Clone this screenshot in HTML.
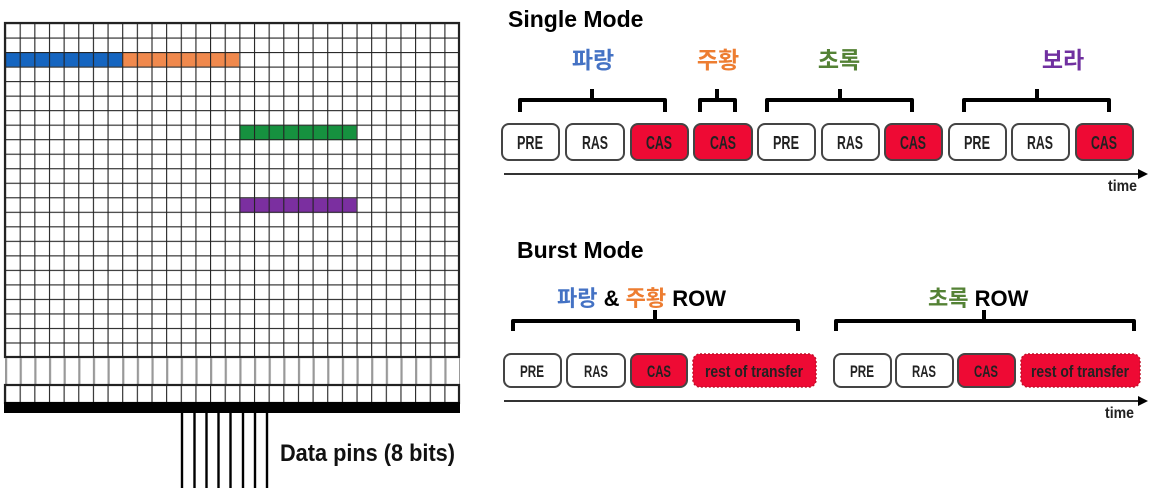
<!DOCTYPE html>
<html><head><meta charset="utf-8"><style>
html,body{margin:0;padding:0;background:#fff;width:1152px;height:488px;overflow:hidden}
svg{display:block}
.b{font-family:"Liberation Sans Narrow","Liberation Sans",sans-serif;font-weight:bold}
.k{font-family:"Liberation Sans","Noto Sans CJK KR",sans-serif;font-weight:bold}
</style></head><body>
<svg width="1152" height="488" viewBox="0 0 1152 488" xmlns="http://www.w3.org/2000/svg">
<defs>
<pattern id="g" x="5" y="23" width="14.645" height="14.52" patternUnits="userSpaceOnUse">
<path d="M0 0H14.645M0 0V14.52" stroke="#222" stroke-width="2.2" fill="none"/>
</pattern>
<pattern id="g2" x="5" y="385" width="14.645" height="30" patternUnits="userSpaceOnUse">
<path d="M0 0V30" stroke="#222" stroke-width="2.2"/>
</pattern>
<pattern id="g3" x="5" y="357" width="14.645" height="30" patternUnits="userSpaceOnUse">
<path d="M1 0V30" stroke="#999" stroke-width="2.4"/>
</pattern>
</defs>
<rect x="5" y="23" width="454" height="334" fill="#fff"/>
<rect x="5" y="52" width="117" height="14.5" fill="#1565c0"/>
<rect x="122" y="52" width="117" height="14.5" fill="#f0894d"/>
<rect x="239.4" y="125.6" width="117" height="14.5" fill="#16913f"/>
<rect x="239.4" y="198.2" width="117" height="14.5" fill="#7b2fa0"/>
<rect x="5" y="23" width="454" height="334" fill="url(#g)"/>
<rect x="5" y="23" width="454" height="334" fill="none" stroke="#222" stroke-width="2.2"/>
<rect x="5" y="358" width="455" height="27" fill="url(#g3)"/>
<rect x="5" y="385" width="455" height="18" fill="url(#g2)"/>
<rect x="5" y="385" width="454" height="18" fill="none" stroke="#222" stroke-width="2.2"/>
<rect x="4" y="402" width="456" height="11" fill="#000"/>
<g stroke="#000" stroke-width="2.4">
<path d="M182 413V488M194.5 413V488M206.5 413V488M218.5 413V488M230.5 413V488M243 413V488M255 413V488M267 413V488"/>
</g>
<text x="280" y="461" class="b" font-size="24" textLength="175" lengthAdjust="spacingAndGlyphs" fill="#111">Data pins (8 bits)</text>

<text x="508" y="27" class="k" font-size="23" fill="#000">Single Mode</text>
<text x="593" y="68" class="k" font-size="23" fill="#4472c4" text-anchor="middle">파랑</text>
<text x="718" y="68" class="k" font-size="23" fill="#ed7d31" text-anchor="middle">주황</text>
<text x="839" y="68" class="k" font-size="23" fill="#548235" text-anchor="middle">초록</text>
<text x="1063" y="68" class="k" font-size="23" fill="#7030a0" text-anchor="middle">보라</text>
<g fill="none" stroke="#000" stroke-width="4" stroke-linejoin="round">
<path d="M520 112V100H665V112M592 100V89"/>
<path d="M700 112V100H735V112M717 100V89"/>
<path d="M767 112V100H912V112M840 100V89"/>
<path d="M964 112V100H1109V112M1037 100V89"/>
<path d="M513 331V321H798V331M655 321V310"/>
<path d="M836 331V321H1134V331M984 321V310"/>
</g>
<g stroke="#444" stroke-width="2">
<rect x="502" y="124" width="57" height="36" rx="7" fill="#fff"/>
<rect x="566" y="124" width="58" height="36" rx="7" fill="#fff"/>
<rect x="631" y="124" width="57" height="36" rx="7" fill="#ee0a34"/>
<rect x="694" y="124" width="58" height="36" rx="7" fill="#ee0a34"/>
<rect x="758" y="124" width="57" height="36" rx="7" fill="#fff"/>
<rect x="822" y="124" width="57" height="36" rx="7" fill="#fff"/>
<rect x="885" y="124" width="57" height="36" rx="7" fill="#ee0a34"/>
<rect x="949" y="124" width="57" height="36" rx="7" fill="#fff"/>
<rect x="1012" y="124" width="57" height="36" rx="7" fill="#fff"/>
<rect x="1076" y="124" width="57" height="36" rx="7" fill="#ee0a34"/>
</g>
<g class="b" font-size="18" fill="#222" text-anchor="middle" lengthAdjust="spacingAndGlyphs">
<text x="530" y="149" textLength="26" lengthAdjust="spacingAndGlyphs">PRE</text>
<text x="595" y="149" textLength="26" lengthAdjust="spacingAndGlyphs">RAS</text>
<text x="659" y="149" textLength="26" lengthAdjust="spacingAndGlyphs">CAS</text>
<text x="723" y="149" textLength="26" lengthAdjust="spacingAndGlyphs">CAS</text>
<text x="786" y="149" textLength="26" lengthAdjust="spacingAndGlyphs">PRE</text>
<text x="850" y="149" textLength="26" lengthAdjust="spacingAndGlyphs">RAS</text>
<text x="913" y="149" textLength="26" lengthAdjust="spacingAndGlyphs">CAS</text>
<text x="977" y="149" textLength="26" lengthAdjust="spacingAndGlyphs">PRE</text>
<text x="1040" y="149" textLength="26" lengthAdjust="spacingAndGlyphs">RAS</text>
<text x="1104" y="149" textLength="26" lengthAdjust="spacingAndGlyphs">CAS</text>
</g>
<path d="M504 174H1140" stroke="#333" stroke-width="2"/>
<path d="M1148 174L1138 169V179Z" fill="#000"/>
<text x="1108" y="191" class="b" font-size="16" textLength="29" lengthAdjust="spacingAndGlyphs" fill="#222">time</text>

<text x="517" y="258" class="k" font-size="23" fill="#000">Burst Mode</text>
<text x="557" y="306" class="k" font-size="22"><tspan fill="#4472c4">파랑</tspan><tspan fill="#000"> &amp; </tspan><tspan fill="#ed7d31">주황</tspan><tspan fill="#000"> ROW</tspan></text>
<text x="928" y="306" class="k" font-size="22"><tspan fill="#548235">초록</tspan><tspan fill="#000"> ROW</tspan></text>
<g stroke="#444" stroke-width="2">
<rect x="504" y="354" width="57" height="33" rx="7" fill="#fff"/>
<rect x="567" y="354" width="58" height="33" rx="7" fill="#fff"/>
<rect x="631" y="354" width="56" height="33" rx="7" fill="#ee0a34"/>
<rect x="834" y="354" width="57" height="33" rx="7" fill="#fff"/>
<rect x="896" y="354" width="57" height="33" rx="7" fill="#fff"/>
<rect x="958" y="354" width="57" height="33" rx="7" fill="#ee0a34"/>
</g>
<g stroke="#c0102a" stroke-width="1.5" stroke-dasharray="2 2">
<rect x="693" y="354" width="123" height="33" rx="7" fill="#ee0a34"/>
<rect x="1021" y="354" width="119" height="33" rx="7" fill="#ee0a34"/>
</g>
<g class="b" font-size="17" fill="#222" text-anchor="middle">
<text x="532" y="377" textLength="24" lengthAdjust="spacingAndGlyphs">PRE</text>
<text x="596" y="377" textLength="24" lengthAdjust="spacingAndGlyphs">RAS</text>
<text x="659" y="377" textLength="24" lengthAdjust="spacingAndGlyphs">CAS</text>
<text x="862" y="377" textLength="24" lengthAdjust="spacingAndGlyphs">PRE</text>
<text x="924" y="377" textLength="24" lengthAdjust="spacingAndGlyphs">RAS</text>
<text x="986" y="377" textLength="24" lengthAdjust="spacingAndGlyphs">CAS</text>
<text x="754" y="377" textLength="98" lengthAdjust="spacingAndGlyphs">rest of transfer</text>
<text x="1080" y="377" textLength="98" lengthAdjust="spacingAndGlyphs">rest of transfer</text>
</g>
<path d="M504 401H1140" stroke="#333" stroke-width="2"/>
<path d="M1148 401L1138 396V406Z" fill="#000"/>
<text x="1105" y="418" class="b" font-size="16" textLength="29" lengthAdjust="spacingAndGlyphs" fill="#222">time</text>
</svg>
</body></html>
